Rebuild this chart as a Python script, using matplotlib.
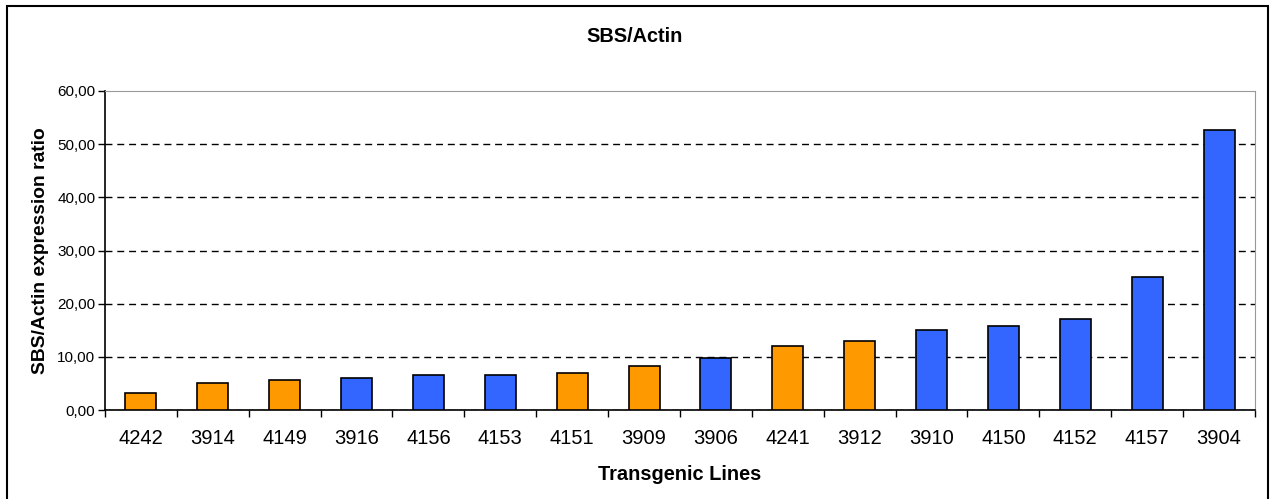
import numpy as np
import matplotlib
matplotlib.use("Agg")
import matplotlib.pyplot as plt
from matplotlib.patches import Rectangle
from matplotlib.ticker import FuncFormatter

lines = ['4242', '3914', '4149', '3916', '4156', '4153', '4151', '3909',
         '3906', '4241', '3912', '3910', '4150', '4152', '4157', '3904']
ratio = [3.26, 5.08, 5.64, 6.08, 6.64, 6.64, 6.9, 8.2,
         9.72, 12.04, 13.04, 15.1, 15.8, 17.2, 25.0, 52.6]
group = ['o', 'o', 'o', 'b', 'b', 'b', 'o', 'o',
         'b', 'o', 'o', 'b', 'b', 'b', 'b', 'b']
colours = {'o': '#FF9900', 'b': '#3366FF'}

plt.rcParams['font.family'] = ['Liberation Sans', 'DejaVu Sans']

fig = plt.figure(figsize=(12.7, 4.99), dpi=100)
ax = fig.add_axes([105/1270, 1-410/499, 1150/1270, 319/499])

x = np.arange(len(lines))
ax.bar(x, ratio, width=0.43, color=[colours[g] for g in group],
       edgecolor='black', linewidth=1.2, zorder=3)

ax.set_xlim(-0.5, len(lines) - 0.5)
ax.set_ylim(0, 60)
ax.set_yticks(np.arange(0, 61, 10))
ax.yaxis.set_major_formatter(FuncFormatter(lambda v, p: f'{v:.2f}'.replace('.', ',')))
ax.set_xticks(x)
ax.set_xticklabels(lines, fontsize=14.5)
ax.set_xticks(np.arange(-0.5, len(lines), 1), minor=True)
ax.tick_params(axis='x', which='major', length=0, pad=14)
ax.tick_params(axis='x', which='minor', length=5, width=1, direction='out')
ax.tick_params(axis='y', length=5, width=1, direction='out', labelsize=11, pad=2)

ax.grid(axis='y', color='black', linestyle=(0, (5, 3.5)), linewidth=1, zorder=0)
ax.yaxis.get_gridlines()[-1].set_visible(False)

for s in ['top', 'right']:
    ax.spines[s].set_color('#999999')
for s in ['left', 'bottom']:
    ax.spines[s].set_color('black')
    ax.spines[s].set_linewidth(1.2)

ax.set_ylabel('SBS/Actin expression ratio', fontsize=13.9, fontweight='bold', labelpad=6)
ax.set_xlabel('Transgenic Lines', fontsize=14.4, fontweight='bold', labelpad=12)
fig.text(0.5, 1-37/499, 'SBS/Actin', ha='center', va='center', fontsize=14.3, fontweight='bold')

# outer chart border
fig.patches.append(Rectangle((7/1270, -0.05), 1261/1270, 1.05 - 6/499,
                             transform=fig.transFigure, fill=False,
                             edgecolor='black', linewidth=1.5))

fig.savefig('out.png', dpi=100)
